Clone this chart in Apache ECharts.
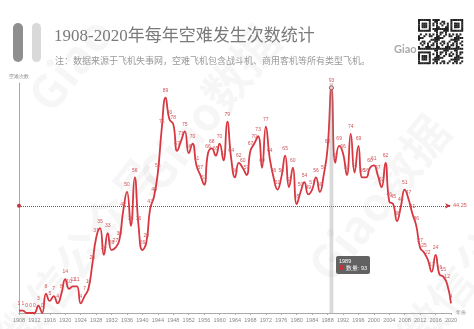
<!DOCTYPE html>
<html><head><meta charset="utf-8">
<script src="https://cdn.jsdelivr.net/npm/echarts@6/dist/echarts.min.js"></script>
<style>html,body{margin:0;padding:0;background:#fff}#c{width:474px;height:329px}</style>
</head><body><div id="c"></div>
<script>
const titleText = '1908-2020年每年空难发生次数统计';
const subtitleText = '注：数据来源于飞机失事网，空难飞机包含战斗机、商用客机等所有类型飞机。';
const seriesName = '数量';
const years = ['1908','1909','1910','1911','1912','1913','1914','1915','1916','1917','1918','1919',
'1920','1921','1922','1923','1924','1925','1926','1927','1928','1929',
'1930','1931','1932','1933','1934','1935','1936','1937','1938','1939',
'1940','1941','1942','1943','1944','1945','1946','1947','1948','1949',
'1950','1951','1952','1953','1954','1955','1956','1957','1958','1959',
'1960','1961','1962','1963','1964','1965','1966','1967','1968','1969',
'1970','1971','1972','1973','1974','1975','1976','1977','1978','1979',
'1980','1981','1982','1983','1984','1985','1986','1987','1988','1989',
'1990','1991','1992','1993','1994','1995','1996','1997','1998','1999',
'2000','2001','2002','2003','2004','2005','2006','2007','2008','2009',
'2010','2011','2012','2013','2014','2015','2016','2017','2018','2019','2020'];
const counts = [1,1,0,0,0,3,0,8,5,7,4,8,
14,10,11,11,4,7,10,20,31,35,
24,33,26,27,30,42,50,36,56,36,
26,29,43,48,58,76,89,80,78,67,
71,75,66,70,61,57,53,66,68,65,
70,63,79,64,56,62,60,57,67,70,
73,60,77,64,56,51,56,65,52,60,
45,50,54,49,51,56,50,57,68,93,
62,69,66,57,74,58,69,56,56,60,
61,57,52,62,46,45,38,44,51,47,
41,36,27,25,22,17,24,16,15,12,4];
const highlightYear = '1989';

const chart = echarts.init(document.getElementById('c'));
const RED = '#c4323b';

const graphics = [];
const wm = [
  {t:'微信公众号', x:-10, y:330, r:0.9},
  {t:'Giao数据', x:130, y:170, r:0.9},
  {t:'Giao数据', x:300, y:260, r:0.9},
  {t:'微信公众号', x:390, y:330, r:0.9},
  {t:'Giao', x:20, y:90, r:0.9}
];
wm.forEach(w => graphics.push({type:'text', x:w.x, y:w.y, rotation:w.r, z:-10, silent:true,
  style:{text:w.t, fontSize:46, fontWeight:'bold', fill:'rgba(0,0,0,0.035)', fontFamily:'Noto Sans CJK SC'}}));
graphics.push({type:'rect', shape:{x:13,y:23,width:10,height:39,r:5}, style:{fill:'#8f8f8f'}});
graphics.push({type:'rect', shape:{x:32,y:23,width:9,height:39,r:4.5}, style:{fill:'#d9d9d9'}});
graphics.push({type:'text', x:394, y:44, style:{text:'Giao', fontSize:11, fontWeight:'bold', fill:'#aaa', fontFamily:'Lato'}});
const qx = 418, qy = 19, m = 1.8, N = 25;
const finder = (i,j) => {
  const inF = (a,b) => a>=0 && a<7 && b>=0 && b<7;
  const blocks = [[0,0],[18,0],[0,18]];
  for (const [ox,oy] of blocks) {
    const a=i-ox, b=j-oy;
    if (a>=-1 && a<=7 && b>=-1 && b<=7) {
      if (!inF(a,b)) return 0;
      if (a===0||a===6||b===0||b===6) return 1;
      if (a>=2&&a<=4&&b>=2&&b<=4) return 1;
      return 0;
    }
  }
  return -1;
};
for (let i=0;i<N;i++) for (let j=0;j<N;j++) {
  const f = finder(i,j);
  const on = f === -1 ? (((i*7919 + j*104729 + i*j*31) % 11) < 5) : f===1;
  if (on) graphics.push({type:'rect', shape:{x:qx+i*m, y:qy+j*m, width:m+0.2, height:m+0.2}, style:{fill:'#222'}});
}

const option = {
  animation: false,
  backgroundColor: '#fff',
  title: [
    {text: titleText, left: 49, top: 23, textStyle:{fontSize:17, fontWeight:'normal', color:'#7a7a7a', fontFamily:"'Liberation Serif','Noto Sans CJK SC'"}},
    {text: subtitleText, left: 50, top: 52, textStyle:{fontSize:9, fontWeight:'normal', color:'#999', fontFamily:"'Liberation Serif','Noto Sans CJK SC'"}}
  ],
  graphic: graphics,
  grid: {left:19, right:23, top:83, bottom:16},
  tooltip: {
    trigger:'axis', alwaysShowContent:true,
    axisPointer:{type:'shadow', shadowStyle:{color:'rgba(150,150,150,0.35)'}},
    backgroundColor:'rgba(70,70,70,0.85)', borderWidth:0, padding:[2,3],
    textStyle:{fontSize:5.5, color:'#fff'},
    extraCssText:'box-shadow:none;border-radius:2px;line-height:7px;',
    position: function(point){ return [point[0]+5, 256]; },
    formatter: function(p){
      return p[0].name + '<br/><span style="display:inline-block;width:5px;height:5px;background:'+RED+';margin-right:2px"></span>' + p[0].seriesName + ': ' + p[0].value;
    }
  },
  xAxis: {
    type:'category', data: years, boundaryGap:false,
    name:'年份', nameGap:5, nameTextStyle:{fontSize:5, color:'#888'},
    axisLine:{lineStyle:{color:'#aaa'}},
    axisTick:{interval:3, length:2, lineStyle:{color:'#aaa'}},
    axisLabel:{interval:3, fontSize:5.5, color:'#888', margin:4}
  },
  yAxis: {
    type:'value', min:0, max:95,
    name:'空难次数', nameGap:4, nameTextStyle:{fontSize:5, color:'#888'},
    axisLine:{show:true, lineStyle:{color:'#aaa'}},
    axisLabel:{show:false}, axisTick:{show:false}, splitLine:{show:false}
  },
  series: [{
    type:'line', name: seriesName, data: counts, smooth:true,
    symbol:'circle', symbolSize:4, showSymbol:true, showAllSymbol:true,
    itemStyle:{color:'transparent', borderColor:'transparent'},
    lineStyle:{width:1.8, color:RED},
    label:{show:true, position:'top', distance:2, fontSize:5, color:'#d0555b'},
    emphasis:{itemStyle:{color:'#fff', borderColor:RED, borderWidth:1}, scale:false},
    markLine:{
      silent:true,
      symbol:['circle','arrow'], symbolSize:[4,6],
      lineStyle:{type:'dotted', color:RED, width:1},
      label:{position:'end', fontSize:5.5, color:'#d0555b', distance:2},
      data:[{type:'average', name:'平均值'}]
    }
  }]
};
chart.setOption(option);
chart.dispatchAction({type:'showTip', seriesIndex:0, dataIndex: years.indexOf(highlightYear)});
</script></body></html>
